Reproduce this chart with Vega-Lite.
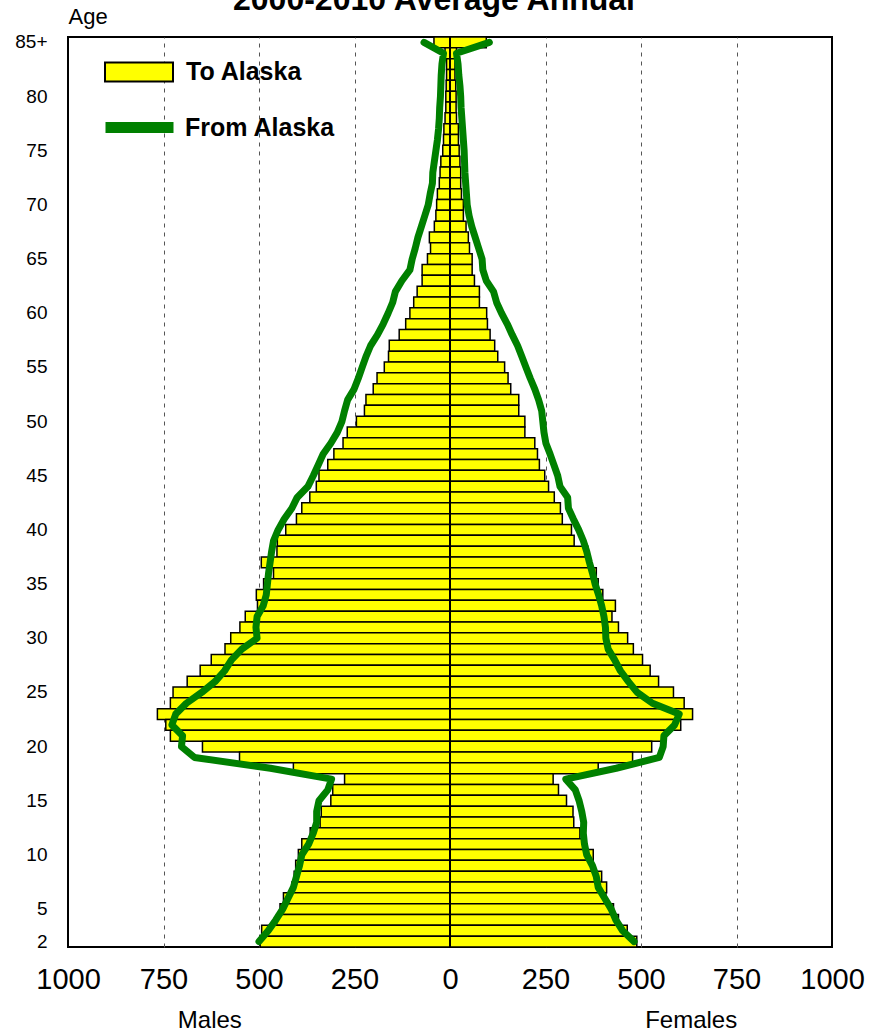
{
  "$schema": "https://vega.github.io/schema/vega-lite/v6.json",
  "width": 764,
  "height": 910,
  "autosize": {"type": "none"},
  "padding": {"left": 68, "top": 37, "right": 40, "bottom": 87},
  "background": "white",
  "title": {"text": "2000-2010 Average Annual", "font": "Liberation Sans", "fontSize": 32, "fontWeight": "bold", "color": "black", "anchor": "middle", "frame": "group", "dx": -16, "dy": 12, "offset": 0},
  "config": {
    "view": {"stroke": "black", "strokeWidth": 2},
    "font": "Liberation Sans"
  },
  "data": {"values": [
    {"age":85,"sex":"M","to":-42,"from":-68},{"age":85,"sex":"F","to":95,"from":103},
    {"age":84,"sex":"M","to":-13,"from":-17},{"age":84,"sex":"F","to":17,"from":17},
    {"age":83,"sex":"M","to":-9,"from":-21},{"age":83,"sex":"F","to":13,"from":21},
    {"age":82,"sex":"M","to":-9,"from":-23},{"age":82,"sex":"F","to":13,"from":23},
    {"age":81,"sex":"M","to":-10,"from":-24},{"age":81,"sex":"F","to":15,"from":26},
    {"age":80,"sex":"M","to":-11,"from":-25},{"age":80,"sex":"F","to":16,"from":28},
    {"age":79,"sex":"M","to":-11,"from":-27},{"age":79,"sex":"F","to":16,"from":29},
    {"age":78,"sex":"M","to":-13,"from":-28},{"age":78,"sex":"F","to":17,"from":31},
    {"age":77,"sex":"M","to":-16,"from":-30},{"age":77,"sex":"F","to":22,"from":33},
    {"age":76,"sex":"M","to":-17,"from":-33},{"age":76,"sex":"F","to":22,"from":35},
    {"age":75,"sex":"M","to":-19,"from":-37},{"age":75,"sex":"F","to":24,"from":37},
    {"age":74,"sex":"M","to":-24,"from":-41},{"age":74,"sex":"F","to":26,"from":38},
    {"age":73,"sex":"M","to":-26,"from":-45},{"age":73,"sex":"F","to":28,"from":39},
    {"age":72,"sex":"M","to":-28,"from":-46},{"age":72,"sex":"F","to":28,"from":41},
    {"age":71,"sex":"M","to":-33,"from":-52},{"age":71,"sex":"F","to":30,"from":43},
    {"age":70,"sex":"M","to":-35,"from":-57},{"age":70,"sex":"F","to":35,"from":45},
    {"age":69,"sex":"M","to":-37,"from":-66},{"age":69,"sex":"F","to":35,"from":50},
    {"age":68,"sex":"M","to":-41,"from":-75},{"age":68,"sex":"F","to":42,"from":57},
    {"age":67,"sex":"M","to":-54,"from":-84},{"age":67,"sex":"F","to":48,"from":66},
    {"age":66,"sex":"M","to":-51,"from":-91},{"age":66,"sex":"F","to":51,"from":75},
    {"age":65,"sex":"M","to":-59,"from":-99},{"age":65,"sex":"F","to":58,"from":84},
    {"age":64,"sex":"M","to":-73,"from":-105},{"age":64,"sex":"F","to":58,"from":86},
    {"age":63,"sex":"M","to":-73,"from":-126},{"age":63,"sex":"F","to":64,"from":95},
    {"age":62,"sex":"M","to":-86,"from":-143},{"age":62,"sex":"F","to":77,"from":114},
    {"age":61,"sex":"M","to":-95,"from":-150},{"age":61,"sex":"F","to":77,"from":122},
    {"age":60,"sex":"M","to":-105,"from":-162},{"age":60,"sex":"F","to":96,"from":135},
    {"age":59,"sex":"M","to":-116,"from":-175},{"age":59,"sex":"F","to":98,"from":150},
    {"age":58,"sex":"M","to":-133,"from":-190},{"age":58,"sex":"F","to":105,"from":163},
    {"age":57,"sex":"M","to":-159,"from":-208},{"age":57,"sex":"F","to":117,"from":177},
    {"age":56,"sex":"M","to":-161,"from":-220},{"age":56,"sex":"F","to":125,"from":188},
    {"age":55,"sex":"M","to":-172,"from":-230},{"age":55,"sex":"F","to":143,"from":199},
    {"age":54,"sex":"M","to":-191,"from":-240},{"age":54,"sex":"F","to":152,"from":210},
    {"age":53,"sex":"M","to":-201,"from":-251},{"age":53,"sex":"F","to":159,"from":222},
    {"age":52,"sex":"M","to":-220,"from":-268},{"age":52,"sex":"F","to":180,"from":232},
    {"age":51,"sex":"M","to":-224,"from":-276},{"age":51,"sex":"F","to":180,"from":240},
    {"age":50,"sex":"M","to":-245,"from":-283},{"age":50,"sex":"F","to":196,"from":243},
    {"age":49,"sex":"M","to":-269,"from":-295},{"age":49,"sex":"F","to":196,"from":246},
    {"age":48,"sex":"M","to":-280,"from":-312},{"age":48,"sex":"F","to":222,"from":251},
    {"age":47,"sex":"M","to":-304,"from":-332},{"age":47,"sex":"F","to":229,"from":262},
    {"age":46,"sex":"M","to":-320,"from":-345},{"age":46,"sex":"F","to":234,"from":272},
    {"age":45,"sex":"M","to":-343,"from":-358},{"age":45,"sex":"F","to":248,"from":282},
    {"age":44,"sex":"M","to":-350,"from":-372},{"age":44,"sex":"F","to":258,"from":288},
    {"age":43,"sex":"M","to":-367,"from":-400},{"age":43,"sex":"F","to":273,"from":308},
    {"age":42,"sex":"M","to":-388,"from":-414},{"age":42,"sex":"F","to":289,"from":310},
    {"age":41,"sex":"M","to":-402,"from":-434},{"age":41,"sex":"F","to":294,"from":323},
    {"age":40,"sex":"M","to":-430,"from":-450},{"age":40,"sex":"F","to":318,"from":337},
    {"age":39,"sex":"M","to":-452,"from":-462},{"age":39,"sex":"F","to":325,"from":349},
    {"age":38,"sex":"M","to":-453,"from":-467},{"age":38,"sex":"F","to":361,"from":358},
    {"age":37,"sex":"M","to":-494,"from":-471},{"age":37,"sex":"F","to":361,"from":365},
    {"age":36,"sex":"M","to":-462,"from":-475},{"age":36,"sex":"F","to":383,"from":373},
    {"age":35,"sex":"M","to":-488,"from":-478},{"age":35,"sex":"F","to":388,"from":380},
    {"age":34,"sex":"M","to":-507,"from":-481},{"age":34,"sex":"F","to":400,"from":389},
    {"age":33,"sex":"M","to":-504,"from":-489},{"age":33,"sex":"F","to":433,"from":397},
    {"age":32,"sex":"M","to":-536,"from":-505},{"age":32,"sex":"F","to":424,"from":403},
    {"age":31,"sex":"M","to":-550,"from":-508},{"age":31,"sex":"F","to":441,"from":407},
    {"age":30,"sex":"M","to":-574,"from":-505},{"age":30,"sex":"F","to":465,"from":408},
    {"age":29,"sex":"M","to":-589,"from":-545},{"age":29,"sex":"F","to":480,"from":414},
    {"age":28,"sex":"M","to":-625,"from":-572},{"age":28,"sex":"F","to":504,"from":431},
    {"age":27,"sex":"M","to":-654,"from":-590},{"age":27,"sex":"F","to":524,"from":446},
    {"age":26,"sex":"M","to":-688,"from":-615},{"age":26,"sex":"F","to":546,"from":467},
    {"age":25,"sex":"M","to":-725,"from":-650},{"age":25,"sex":"F","to":585,"from":490},
    {"age":24,"sex":"M","to":-732,"from":-690},{"age":24,"sex":"F","to":613,"from":530},
    {"age":23,"sex":"M","to":-766,"from":-718},{"age":23,"sex":"F","to":635,"from":600},
    {"age":22,"sex":"M","to":-744,"from":-728},{"age":22,"sex":"F","to":604,"from":588},
    {"age":21,"sex":"M","to":-732,"from":-700},{"age":21,"sex":"F","to":565,"from":560},
    {"age":20,"sex":"M","to":-648,"from":-703},{"age":20,"sex":"F","to":528,"from":558},
    {"age":19,"sex":"M","to":-551,"from":-669},{"age":19,"sex":"F","to":478,"from":548},
    {"age":18,"sex":"M","to":-410,"from":-470},{"age":18,"sex":"F","to":388,"from":435},
    {"age":17,"sex":"M","to":-276,"from":-310},{"age":17,"sex":"F","to":270,"from":303},
    {"age":16,"sex":"M","to":-307,"from":-320},{"age":16,"sex":"F","to":284,"from":328},
    {"age":15,"sex":"M","to":-312,"from":-343},{"age":15,"sex":"F","to":305,"from":338},
    {"age":14,"sex":"M","to":-337,"from":-349},{"age":14,"sex":"F","to":322,"from":345},
    {"age":13,"sex":"M","to":-340,"from":-349},{"age":13,"sex":"F","to":324,"from":350},
    {"age":12,"sex":"M","to":-366,"from":-358},{"age":12,"sex":"F","to":340,"from":349},
    {"age":11,"sex":"M","to":-388,"from":-370},{"age":11,"sex":"F","to":349,"from":352},
    {"age":10,"sex":"M","to":-397,"from":-388},{"age":10,"sex":"F","to":375,"from":358},
    {"age":9,"sex":"M","to":-404,"from":-394},{"age":9,"sex":"F","to":375,"from":373},
    {"age":8,"sex":"M","to":-408,"from":-402},{"age":8,"sex":"F","to":397,"from":383},
    {"age":7,"sex":"M","to":-414,"from":-410},{"age":7,"sex":"F","to":410,"from":388},
    {"age":6,"sex":"M","to":-436,"from":-424},{"age":6,"sex":"F","to":408,"from":405},
    {"age":5,"sex":"M","to":-445,"from":-438},{"age":5,"sex":"F","to":428,"from":422},
    {"age":4,"sex":"M","to":-454,"from":-456},{"age":4,"sex":"F","to":441,"from":434},
    {"age":3,"sex":"M","to":-493,"from":-476},{"age":3,"sex":"F","to":464,"from":452},
    {"age":2,"sex":"M","to":-497,"from":-500},{"age":2,"sex":"F","to":489,"from":482}
  ]},
  "layer": [
    {
      "mark": {"type": "bar", "stroke": "black", "strokeWidth": 1.5},
      "encoding": {
        "y": {"field": "age", "type": "ordinal", "sort": "descending",
              "scale": {"paddingInner": 0, "paddingOuter": 0},
              "axis": {"values": [85,80,75,70,65,60,55,50,45,40,35,30,25,20,15,10,5,2],
                       "labelExpr": "datum.value == 85 ? '85+' : datum.value",
                       "labelFont": "Liberation Sans", "labelFontSize": 19, "labelColor": "black",
                       "labelPadding": 21, "ticks": false, "tickSize": 0, "domain": false, "grid": false,
                       "title": "Age", "titleAngle": 0, "titleAlign": "left", "titleBaseline": "alphabetic",
                       "titleX": 0, "titleY": -14, "titleFont": "Liberation Sans", "titleFontSize": 22,
                       "titleFontWeight": "normal", "titleColor": "black"}},
        "x": {"field": "to", "type": "quantitative",
              "scale": {"domain": [-1000, 1000], "nice": false},
              "axis": {"orient": "bottom", "values": [-1000,-750,-500,-250,0,250,500,750,1000],
                       "labelExpr": "abs(datum.value)",
                       "labelFont": "Liberation Sans", "labelFontSize": 29, "labelColor": "black",
                       "labelPadding": 18, "labelFlush": false, "labelOverlap": false,
                       "ticks": false, "tickSize": 0, "domain": false, "title": null,
                       "grid": true, "gridDash": [4, 5], "gridWidth": 1,
                       "gridColor": {"condition": {"test": "abs(datum.value) == 1000 || datum.value == 0", "value": "transparent"}, "value": "#555555"}}},
        "fill": {"datum": "To Alaska", "type": "nominal",
                 "scale": {"range": ["#ffff00"]},
                 "legend": {"orient": "none", "legendX": 36, "legendY": 0, "title": null,
                            "symbolType": "M-1,-0.28H1V0.28H-1Z", "symbolSize": 4624,
                            "symbolStrokeColor": "black", "symbolStrokeWidth": 2,
                            "labelFont": "Liberation Sans", "labelFontSize": 25, "labelFontWeight": "bold",
                            "labelColor": "black", "labelOffset": 12, "padding": 0}}
      }
    },
    {
      "mark": {"type": "rule", "color": "black", "strokeWidth": 2},
      "encoding": {"x": {"datum": 0, "type": "quantitative", "axis": null}}
    },
    {
      "mark": {"type": "line", "strokeWidth": 7, "strokeCap": "round", "strokeJoin": "round"},
      "encoding": {
        "y": {"field": "age", "type": "ordinal", "sort": "descending"},
        "x": {"field": "from", "type": "quantitative",
              "axis": {"orient": "bottom", "values": [-630, 630],
                       "labelExpr": "datum.value < 0 ? 'Males' : 'Females'",
                       "labelFont": "Liberation Sans", "labelFontSize": 24, "labelColor": "black",
                       "labelPadding": 61, "labelFlush": false, "labelOverlap": false,
                       "ticks": false, "tickSize": 0, "domain": false, "grid": false, "title": null}},
        "detail": {"field": "sex"},
        "order": {"field": "age", "sort": "descending"},
        "stroke": {"datum": "From Alaska", "type": "nominal",
                   "scale": {"range": ["#008000"]},
                   "legend": {"orient": "none", "legendX": 32, "legendY": 51, "title": null,
                              "symbolType": "stroke", "symbolSize": 4624, "symbolStrokeWidth": 11,
                              "labelFont": "Liberation Sans", "labelFontSize": 25, "labelFontWeight": "bold",
                              "labelColor": "black", "labelOffset": 6, "padding": 0}}
      }
    }
  ],
  "resolve": {"axis": {"x": "independent"}}
}
